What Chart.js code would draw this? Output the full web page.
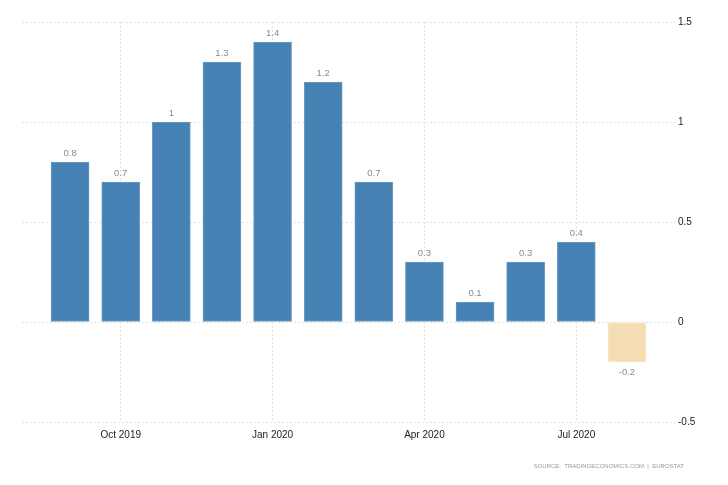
<!DOCTYPE html>
<html>
<head>
<meta charset="utf-8">
<script src="https://cdn.jsdelivr.net/npm/chart.js@4"></script>
<style>
  html, body { margin: 0; padding: 0; background: #fff; }
  #wrap { width: 728px; height: 485px; position: relative; }
</style>
</head>
<body>
<div id="wrap"><canvas id="chart"></canvas></div>
<script>
// Monthly values, Sep 2019 .. Aug 2020
var months = ['Sep 2019', 'Oct 2019', 'Nov 2019', 'Dec 2019', 'Jan 2020', 'Feb 2020',
              'Mar 2020', 'Apr 2020', 'May 2020', 'Jun 2020', 'Jul 2020', 'Aug 2020'];
var values = [0.8, 0.7, 1, 1.3, 1.4, 1.2, 0.7, 0.3, 0.1, 0.3, 0.4, -0.2];
// months that get an axis label
var tickMonths = ['Oct 2019', 'Jan 2020', 'Apr 2020', 'Jul 2020'];
var yTicks = [-0.5, 0, 0.5, 1, 1.5];
var sourceText = 'SOURCE:  TRADINGECONOMICS.COM  |  EUROSTAT';

var FONT = '"Liberation Sans", Arial, sans-serif';

// value labels above / below each bar
var valueLabels = {
    id: 'valueLabels',
    afterDatasetsDraw: function (chart) {
        var ctx = chart.ctx;
        var meta = chart.getDatasetMeta(0);
        ctx.save();
        ctx.font = '9.5px ' + FONT;
        ctx.fillStyle = '#8a8a8a';
        ctx.textAlign = 'center';
        meta.data.forEach(function (bar, i) {
            var v = values[i];
            if (v >= 0) {
                ctx.textBaseline = 'bottom';
                ctx.fillText(String(v), bar.x, bar.y - 4);
            } else {
                ctx.textBaseline = 'top';
                ctx.fillText(String(v), bar.x, bar.y + 6);
            }
        });
        ctx.restore();
    }
};

var sourceNote = {
    id: 'sourceNote',
    afterDraw: function (chart) {
        var ctx = chart.ctx;
        ctx.save();
        ctx.font = '6px ' + FONT;
        ctx.fillStyle = '#999';
        ctx.textAlign = 'right';
        ctx.textBaseline = 'middle';
        ctx.fillText(sourceText, 684, 466);
        ctx.restore();
    }
};

new Chart(document.getElementById('chart'), {
    type: 'bar',
    data: {
        datasets: [{
            data: values.map(function (v, i) { return { x: i, y: v }; }),
            backgroundColor: values.map(function (v) { return v < 0 ? '#f5deb3' : '#4682b4'; }),
            borderColor: values.map(function (v) { return v < 0 ? '#f8e8c8' : '#6a9cc6'; }),
            borderWidth: 1,
            borderSkipped: false,
            barThickness: 38
        }]
    },
    options: {
        responsive: true,
        maintainAspectRatio: false,
        animation: false,
        layout: { padding: { left: 22, top: 22, right: 0, bottom: 0 } },
        plugins: {
            legend: { display: false },
            tooltip: { enabled: false }
        },
        scales: {
            x: {
                type: 'linear',
                min: -0.95,
                max: 11.95,
                offset: false,
                afterBuildTicks: function (scale) {
                    scale.ticks = tickMonths.map(function (m) { return { value: months.indexOf(m) }; });
                },
                afterFit: function (scale) { scale.height = 63; },
                ticks: {
                    callback: function (val) { return months[val]; },
                    color: '#222',
                    font: { family: FONT, size: 10 },
                    padding: 7,
                    maxRotation: 0
                },
                grid: { color: '#e2e2e2', drawTicks: false, offset: false },
                border: { display: false, dash: [2, 2] }
            },
            y: {
                position: 'right',
                min: -0.5,
                max: 1.5,
                afterBuildTicks: function (scale) {
                    scale.ticks = yTicks.map(function (v) { return { value: v }; });
                },
                afterFit: function (scale) { scale.width = 53; },
                ticks: {
                    color: '#222',
                    font: { family: FONT, size: 10 },
                    padding: 3,
                    callback: function (val) { return String(val); }
                },
                grid: { color: '#e2e2e2', drawTicks: false },
                border: { display: false, dash: [2, 2] }
            }
        }
    },
    plugins: [valueLabels, sourceNote]
});
</script>
</body>
</html>
